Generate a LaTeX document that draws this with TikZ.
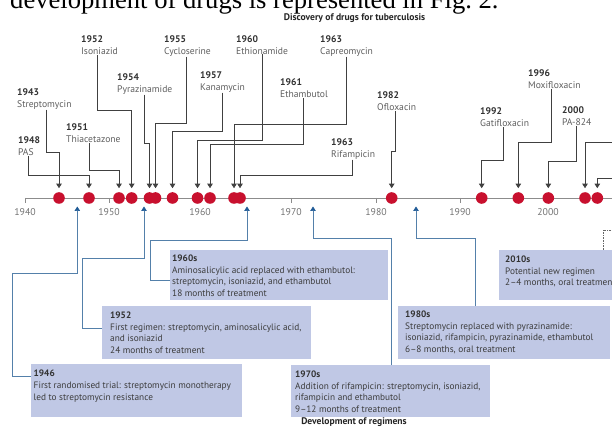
\documentclass[tikz,border=0pt]{standalone}
\usepackage{fontspec}
\setmainfont{PT Sans}
\newfontfamily\serifx{Liberation Serif}
\usetikzlibrary{arrows.meta}
\definecolor{tbred}{RGB}{200,16,46}
\definecolor{boxfill}{RGB}{192,200,229}
\definecolor{bline}{RGB}{84,128,170}
\definecolor{bhead}{RGB}{30,90,150}
\definecolor{axisgray}{RGB}{140,140,140}
\definecolor{lblgray}{RGB}{95,95,95}
\definecolor{yeardark}{RGB}{50,50,50}
\definecolor{txtdark}{RGB}{60,60,60}
\begin{document}
\begin{tikzpicture}[x=1pt,y=-1pt,
  dot/.style={circle,fill=tbred,inner sep=0pt,minimum size=11.6pt},
  drug/.style={anchor=north west,inner sep=0pt,align=left,font=\fontsize{9.6}{12}\selectfont,text=lblgray},
  drugline/.style={draw=black!75,line width=0.65pt,shorten >=3.8pt,-{Triangle[length=4.5pt,width=5.5pt]}},
  regline/.style={draw=bline,line width=0.65pt,-{Triangle[length=4.5pt,width=5.5pt,color=bhead]}},
  regbox/.style={fill=boxfill,inner sep=0pt,anchor=north west},
  regtext/.style={anchor=north west,inner sep=0pt,align=left,font=\fontsize{9.3}{11.7}\selectfont,text=txtdark},
  yearlbl/.style={font=\fontsize{9.8}{10}\selectfont,text=black!55},
  heading/.style={font=\bfseries\fontsize{9.6}{10}\selectfont,text=black!85},
  dotline/.style={draw=black!60,line width=0.6pt,densely dotted}
]
\clip (0,0) rectangle (612,435);
\fill[white] (0,0) rectangle (612,435);

% cut-off sentence at the top
\node[anchor=base west,inner sep=0pt,font=\serifx\fontsize{26.6}{30}\selectfont] (intro) at (10,8.5) {development of drugs is represented in Fig.~2.};

\node[heading] (htop) at (354.5,18) {Discovery of drugs for tuberculosis};
\node[heading] (hbot) at (354,422.5) {Development of regimens};

% axis
\draw[axisgray,line width=0.7pt] (25,198) -- (612,198);
\foreach \x/\yr in {25/1940,109/1950,200/1960,291/1970,376/1980,460/1990,548/2000}{
  \draw[axisgray,line width=0.7pt] (\x,198) -- (\x,203);
  \node[yearlbl] (y\yr) at (\x,212) {\yr};
}

% regimen boxes
\node[regbox,minimum width=211pt,minimum height=53pt] (b1946) at (31,364) {};
\node[regtext] (x1946) at (33.5,370) {\textbf{\color{yeardark}1946}\\First randomised trial: streptomycin monotherapy\\led to streptomycin resistance};
\node[regbox,minimum width=209pt,minimum height=53pt] (b1952) at (102,306) {};
\node[regtext] (x1952) at (110,311.5) {\textbf{\color{yeardark}1952}\\First regimen: streptomycin, aminosalicylic acid,\\and isoniazid\\24 months of treatment};
\node[regbox,minimum width=218pt,minimum height=50pt] (b1960) at (170,250) {};
\node[regtext] (x1960) at (172,254.5) {\textbf{\color{yeardark}1960s}\\Aminosalicylic acid replaced with ethambutol:\\streptomycin, isoniazid, and ethambutol\\18 months of treatment};
\node[regbox,minimum width=199pt,minimum height=52pt] (b1970) at (291,365) {};
\node[regtext] (x1970) at (295,370.5) {\textbf{\color{yeardark}1970s}\\Addition of rifampicin: streptomycin, isoniazid,\\rifampicin and ethambutol\\9--12 months of treatment};
\node[regbox,minimum width=212pt,minimum height=53pt] (b1980) at (398,306) {};
\node[regtext] (x1980) at (405,310.5) {\textbf{\color{yeardark}1980s}\\Streptomycin replaced with pyrazinamide:\\isoniazid, rifampicin, pyrazinamide, ethambutol\\6--8 months, oral treatment};
\node[regbox,minimum width=120pt,minimum height=50pt] (b2010) at (499,250) {};
\node[regtext] (x2010) at (505,255.5) {\textbf{\color{yeardark}2010s}\\Potential new regimen\\2--4 months, oral treatment};

% regimen connectors
\coordinate (a1946) at (77.3,206.5);
\coordinate (a1952) at (144,206.5);
\coordinate (a1960) at (247,206.5);
\coordinate (a1970) at (313,206.5);
\coordinate (a1980) at (416,206.5);
\coordinate (e2010) at (616,230);
\draw[regline] (b1946.west |- 0,376.7) -| (12,273) -| (a1946);
\draw[regline] (b1952.west |- 0,328) -| (82.7,258) -| (a1952);
\draw[regline] (b1960.west |- 0,280) -| (150,240) -| (a1960);
\draw[regline] (b1970.north -| 391.7,0) |- (a1970 |- 0,238) -- (a1970);
\draw[regline] (b1980.north -| 475.7,0) |- (a1980 |- 0,238) -- (a1980);
\draw[dotline] (b2010.north -| 603,0) |- (e2010);

% drug labels
\node[drug] (lStrep) at (17,88.5) {\textbf{\color{yeardark}1943}\\Streptomycin};
\node[drug] (lPAS) at (18,136.5) {\textbf{\color{yeardark}1948}\\PAS};
\node[drug] (lThia) at (66,123.5) {\textbf{\color{yeardark}1951}\\Thiacetazone};
\node[drug] (lIso) at (81,35.5) {\textbf{\color{yeardark}1952}\\Isoniazid};
\node[drug] (lPyr) at (117,73.5) {\textbf{\color{yeardark}1954}\\Pyrazinamide};
\node[drug] (lCyc) at (164,35.5) {\textbf{\color{yeardark}1955}\\Cycloserine};
\node[drug] (lKan) at (200,71.5) {\textbf{\color{yeardark}1957}\\Kanamycin};
\node[drug] (lEthi) at (236,35) {\textbf{\color{yeardark}1960}\\Ethionamide};
\node[drug] (lEtha) at (280,78.5) {\textbf{\color{yeardark}1961}\\Ethambutol};
\node[drug] (lCap) at (320,35.5) {\textbf{\color{yeardark}1963}\\Capreomycin};
\node[drug] (lRif) at (331,138.5) {\textbf{\color{yeardark}1963}\\Rifampicin};
\node[drug] (lOfl) at (377,91.5) {\textbf{\color{yeardark}1982}\\Ofloxacin};
\node[drug] (lGat) at (480,107.5) {\textbf{\color{yeardark}1992}\\Gatifloxacin};
\node[drug] (lMox) at (528,69.5) {\textbf{\color{yeardark}1996}\\Moxifloxacin};
\node[drug] (lPA) at (562,106.5) {\textbf{\color{yeardark}2000}\\PA-824};

% dots
\node[dot] (dStrep) at (59,198) {};
\node[dot] (dPAS) at (89,198) {};
\node[dot] (dThia) at (119,198) {};
\node[dot] (dIso) at (131.7,198) {};
\node[dot] (dPyr) at (149.5,198) {};
\node[dot] (dCyc) at (155.5,198) {};
\node[dot] (dKan) at (172.5,198) {};
\node[dot] (dEthi) at (197.5,198) {};
\node[dot] (dEtha) at (210,198) {};
\node[dot] (dCap) at (234,198) {};
\node[dot] (dRif) at (240,198) {};
\node[dot] (dOfl) at (391.7,198) {};
\node[dot] (dGat) at (481.7,198) {};
\node[dot] (dMox) at (518.3,198) {};
\node[dot] (dPA) at (548.3,198) {};
\node[dot] (dR1) at (585,198) {};
\node[dot] (dR2) at (597.3,198) {};

% drug connectors
\draw[drugline] (lStrep.south -| 46.7,0) |- (dStrep.north |- 0,152) -- (dStrep.north);
\draw[drugline] (lPAS.south -| 28.3,0) |- (dPAS.north |- 0,175) -- (dPAS.north);
\draw[drugline] (lThia.south -| 89.3,0) |- (dThia.north |- 0,170) -- (dThia.north);
\draw[drugline] (lIso.south -| 97.7,0) |- (dIso.north |- 0,110) -- (dIso.north);
\draw[drugline] (lPyr.south -| 144,0) |- (dPyr.north |- 0,143) -- (dPyr.north);
\draw[drugline] (lCyc.south -| 186,0) |- (dCyc.north |- 0,123.5) -- (dCyc.north);
\draw[drugline] (lKan.south -| 222,0) |- (dKan.north |- 0,131) -- (dKan.north);
\draw[drugline] (lEthi.south -| 262,0) |- (dEthi.north |- 0,140) -- (dEthi.north);
\draw[drugline] (lEtha.south -| 303.5,0) |- (dEtha.north |- 0,144.5) -- (dEtha.north);
\draw[drugline] (lCap.south -| 346.7,0) |- (dCap.north |- 0,124.5) -- (dCap.north);
\draw[drugline] (lRif.south -| 352.3,0) |- (dRif.north |- 0,175.5) -- (dRif.north);
\draw[drugline] (lOfl.south -| 395.7,0) |- (dOfl.north |- 0,151) -- (dOfl.north);
\draw[drugline] (lGat.south -| 503.3,0) |- (dGat.north |- 0,160) -- (dGat.north);
\draw[drugline] (lMox.south -| 551.7,0) |- (dMox.north |- 0,142.7) -- (dMox.north);
\draw[drugline] (lPA.south -| 576,0) |- (dPA.north |- 0,161.7) -- (dPA.north);
\coordinate (r1) at (616,142);
\coordinate (r2) at (616,178.3);
\draw[drugline] (r1) -| (dR1.north);
\draw[drugline] (r2) -| (dR2.north);
\end{tikzpicture}
\end{document}
